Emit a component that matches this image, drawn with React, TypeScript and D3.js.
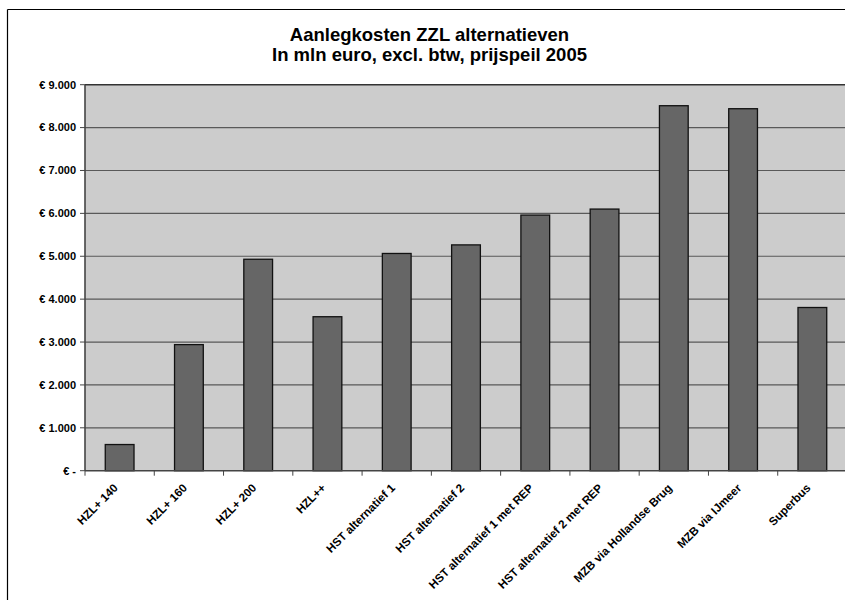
import React from "react";
import * as d3 from "d3";

const categories = [
  "HZL+ 140",
  "HZL+ 160",
  "HZL+ 200",
  "HZL++",
  "HST alternatief 1",
  "HST alternatief 2",
  "HST alternatief 1 met REP",
  "HST alternatief 2 met REP",
  "MZB via Hollandse Brug",
  "MZB via IJmeer",
  "Superbus",
];
const values = [610, 2940, 4930, 3590, 5065, 5265, 5960, 6100, 8510, 8440, 3805];
const yTicks = [0, 1000, 2000, 3000, 4000, 5000, 6000, 7000, 8000, 9000];
const titleLines = ["Aanlegkosten ZZL alternatieven", "In mln euro, excl. btw, prijspeil 2005"];

const W = 845;
const H = 600;
const plot = { left: 85, right: 847, top: 84.7, bottom: 470.7 };
const font = "'Liberation Sans', Arial, sans-serif";

const fmt = (v: number) => (v === 0 ? "€ -" : "€ " + d3.format(",")(v).replace(/,/g, "."));

export default function App() {
  const x = d3
    .scaleBand<string>()
    .domain(categories)
    .range([plot.left, plot.right])
    .paddingInner(0.585)
    .paddingOuter(0.2925);
  const step = (plot.right - plot.left) / categories.length;
  const y = d3.scaleLinear().domain([0, 9000]).range([plot.bottom, plot.top]);

  return (
    <svg
      width={W}
      height={H}
      style={{ position: "absolute", left: 0, top: 0, background: "#fff", display: "block" }}
    >
      {/* outer border (top and left visible) */}
      <line x1={7.5} x2={W} y1={9.5} y2={9.5} stroke="#000" strokeWidth={1.2} />
      <line x1={7.5} x2={7.5} y1={9.5} y2={H} stroke="#000" strokeWidth={1.2} />
      {/* title */}
      {titleLines.map((t, i) => (
        <text
          key={i}
          x={429.5}
          y={40.5 + i * 20.5}
          textAnchor="middle"
          fontFamily={font}
          fontWeight="bold"
          fontSize={18.5}
          fill="#000"
        >
          {t}
        </text>
      ))}
      {/* plot background */}
      <rect
        x={plot.left}
        y={plot.top}
        width={plot.right - plot.left}
        height={plot.bottom - plot.top}
        fill="#cccccc"
      />
      {/* gridlines */}
      {yTicks
        .filter((t) => t > 0 && t < 9000)
        .map((t) => (
          <line key={t} x1={plot.left} x2={plot.right} y1={y(t)} y2={y(t)} stroke="#595959" strokeWidth={1.2} />
        ))}
      <line x1={plot.left} x2={plot.right} y1={plot.top} y2={plot.top} stroke="#333" strokeWidth={1.6} />
      {/* bars */}
      {categories.map((c, i) => (
        <rect
          key={c}
          x={x(c)!}
          y={y(values[i])}
          width={x.bandwidth()}
          height={plot.bottom - y(values[i])}
          fill="#666666"
          stroke="#111"
          strokeWidth={1.3}
        />
      ))}
      {/* y axis */}
      <line x1={plot.left} x2={plot.left} y1={plot.top} y2={plot.bottom} stroke="#444" strokeWidth={1.6} />
      {yTicks.map((t) => (
        <g key={t}>
          <line x1={plot.left - 5} x2={plot.left} y1={y(t)} y2={y(t)} stroke="#444" strokeWidth={1} />
          <text
            x={76}
            y={y(t)}
            dy="0.35em"
            textAnchor="end"
            fontFamily={font}
            fontWeight="bold"
            fontSize={11}
            fill="#000"
          >
            {fmt(t)}
          </text>
        </g>
      ))}
      {/* x axis */}
      <line x1={plot.left} x2={plot.right} y1={plot.bottom} y2={plot.bottom} stroke="#444" strokeWidth={1.6} />
      {d3.range(categories.length + 1).map((k) => (
        <line
          key={k}
          x1={plot.left + k * step}
          x2={plot.left + k * step}
          y1={plot.bottom}
          y2={plot.bottom + 5}
          stroke="#444"
          strokeWidth={1}
        />
      ))}
      {categories.map((c) => {
        const cx = x(c)! + x.bandwidth() / 2 - 1;
        const cy = plot.bottom + 18;
        return (
          <text
            key={c}
            transform={`translate(${cx},${cy}) rotate(-45)`}
            textAnchor="end"
            fontFamily={font}
            fontWeight="bold"
            fontSize={11.6}
            fill="#000"
          >
            {c}
          </text>
        );
      })}
    </svg>
  );
}
